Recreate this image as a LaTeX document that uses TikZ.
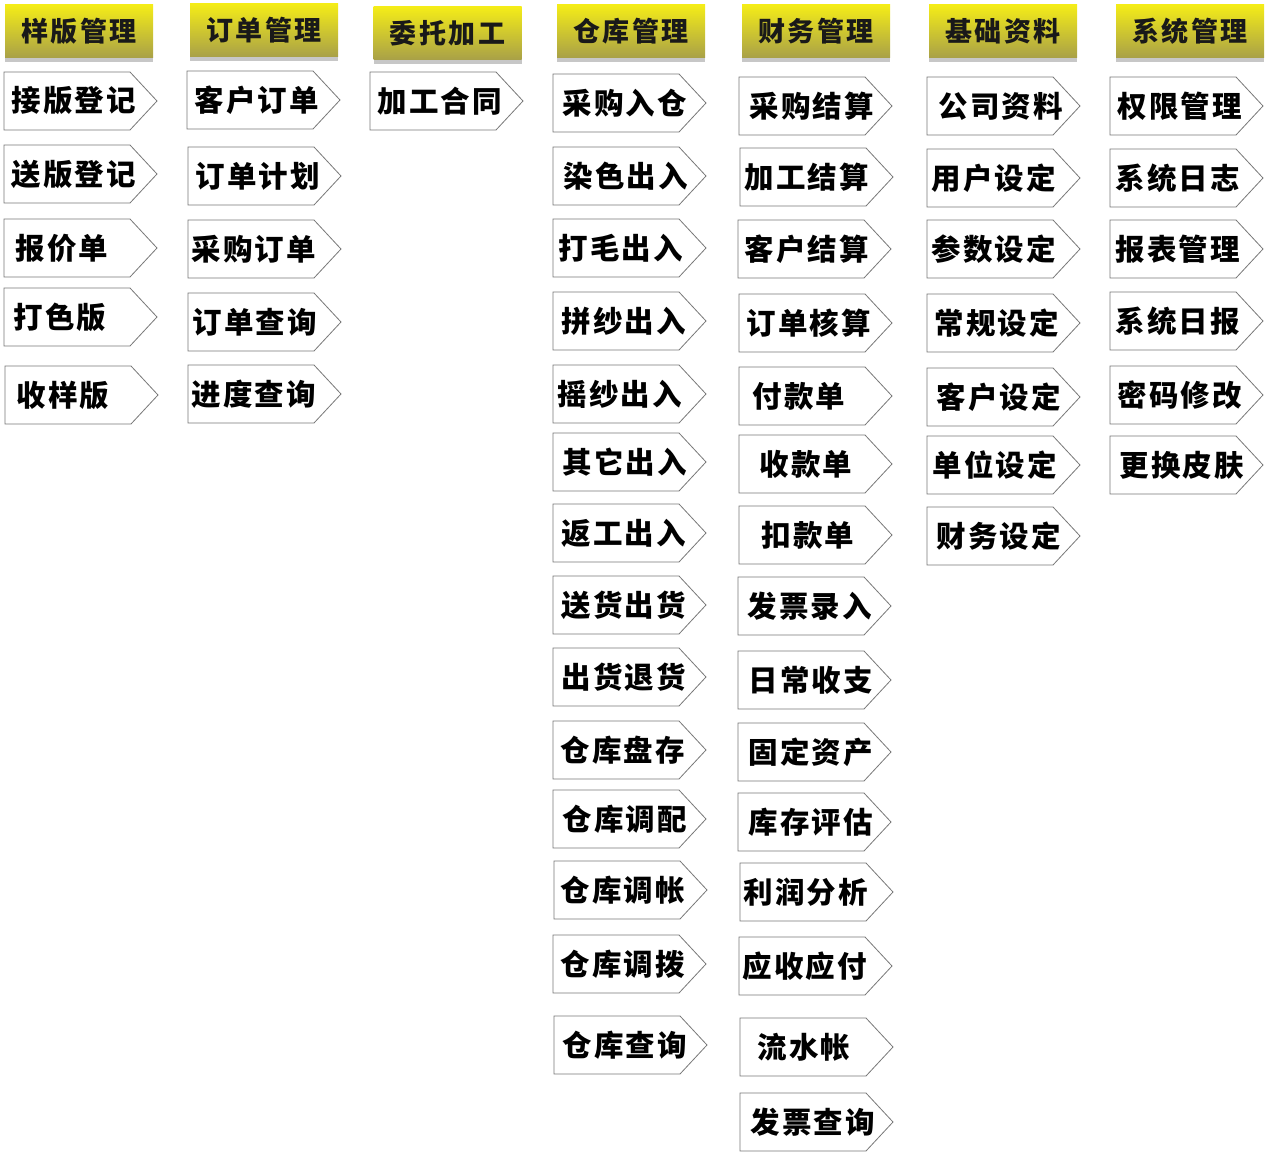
\documentclass[tikz,border=0pt]{standalone}
\usepackage{fontspec}
\usetikzlibrary{shadows}
\newfontfamily\cjkitem[LetterSpace=8, BoldFont={Noto Sans CJK SC Black}]{Noto Sans CJK SC}
\newfontfamily\cjkhead[LetterSpace=9, BoldFont={Noto Sans CJK SC Black}]{Noto Sans CJK SC}
\definecolor{hdtop}{RGB}{244,236,24}
\definecolor{hdbot}{RGB}{168,160,72}
\definecolor{boxline}{RGB}{120,120,120}
\tikzset{
  header/.style={minimum width=148pt, minimum height=53pt, inner sep=0pt,
    top color=hdtop, bottom color=hdbot, draw=none,
    drop shadow={shadow xshift=0pt, shadow yshift=-4pt, fill=black!40, opacity=0.55},
    font=\cjkhead\bfseries\fontsize{27}{27}\selectfont, text=black!90},
  itemline/.style={draw=boxline, line width=0.8pt, fill=white},
  itemtext/.style={inner sep=0pt, anchor=west, font=\cjkitem\bfseries\fontsize{29.5}{29.5}\selectfont, text=black}
}
\newcommand\menuitem[5]{%
  \draw[itemline] (#2,-#3) -- ++(126,0) -- ++(27,-29) -- ++(-27,-29) -- ++(-126,0) -- cycle;
  \node[itemtext] (#1) at (#2+#5,-#3-29) {#4};}
\begin{document}
\begin{tikzpicture}[x=1pt,y=1pt]
\useasboundingbox (0,0) rectangle (1270,-1153);
% headers
\node[header] (h1) at (79,-31.5) {样版管理};
\node[header] (h2) at (264,-30.5) {订单管理};
\node[header] (h3) at (447.5,-33.5) {委托加工};
\node[header] (h4) at (631,-31.5) {仓库管理};
\node[header] (h5) at (816,-31.5) {财务管理};
\node[header] (h6) at (1003,-31.5) {基础资料};
\node[header] (h7) at (1190,-31.5) {系统管理};
% column 1
\menuitem{a1}{4}{72}{接版登记}{7}
\menuitem{a2}{4}{145}{送版登记}{7}
\menuitem{a3}{4}{219}{报价单}{11}
\menuitem{a4}{4}{288}{打色版}{9}
\menuitem{a5}{5}{366}{收样版}{11}
% column 2
\menuitem{b1}{187}{71}{客户订单}{7}
\menuitem{b2}{188}{147}{订单计划}{7}
\menuitem{b3}{188}{220}{采购订单}{3}
\menuitem{b4}{188}{293}{订单查询}{4}
\menuitem{b5}{188}{365}{进度查询}{3}
% column 3
\menuitem{c1}{370}{72}{加工合同}{7}
% column 4
\menuitem{d1}{553}{74}{采购入仓}{9}
\menuitem{d2}{553}{147}{染色出入}{10}
\menuitem{d3}{553}{219}{打毛出入}{5}
\menuitem{d4}{553}{292}{拼纱出入}{8}
\menuitem{d5}{553}{365}{摇纱出入}{4}
\menuitem{d6}{553}{433}{其它出入}{9}
\menuitem{d7}{553}{504}{返工出入}{8}
\menuitem{d8}{553}{576}{送货出货}{8}
\menuitem{d9}{553}{648}{出货退货}{8}
\menuitem{d10}{553}{721}{仓库盘存}{7}
\menuitem{d11}{553}{790}{仓库调配}{9}
\menuitem{d12}{554}{861}{仓库调帐}{6}
\menuitem{d13}{553}{935}{仓库调拨}{7}
\menuitem{d14}{554}{1016}{仓库查询}{8}
% column 5
\menuitem{e1}{739}{77}{采购结算}{10}
\menuitem{e2}{740}{148}{加工结算}{4}
\menuitem{e3}{738}{220}{客户结算}{6}
\menuitem{e4}{739}{294}{订单核算}{7}
\menuitem{e5}{739}{367}{付款单}{13}
\menuitem{e6}{739}{435}{收款单}{20}
\menuitem{e7}{739}{506}{扣款单}{22}
\menuitem{e8}{738}{577}{发票录入}{9}
\menuitem{e9}{738}{651}{日常收支}{10}
\menuitem{e10}{738}{723}{固定资产}{10}
\menuitem{e11}{738}{793}{库存评估}{10}
\menuitem{e12}{740}{863}{利润分析}{3}
\menuitem{e13}{739}{937}{应收应付}{3}
\menuitem{e14}{740}{1018}{流水帐}{17}
\menuitem{e15}{740}{1093}{发票查询}{10}
% column 6
\menuitem{f1}{927}{77}{公司资料}{11}
\menuitem{f2}{927}{149}{用户设定}{4}
\menuitem{f3}{927}{220}{参数设定}{4}
\menuitem{f4}{927}{294}{常规设定}{7}
\menuitem{f5}{927}{368}{客户设定}{9}
\menuitem{f6}{927}{436}{单位设定}{5}
\menuitem{f7}{927}{507}{财务设定}{9}
% column 7
\menuitem{g1}{1110}{77}{权限管理}{7}
\menuitem{g2}{1110}{149}{系统日志}{5}
\menuitem{g3}{1110}{220}{报表管理}{5}
\menuitem{g4}{1110}{292}{系统日报}{5}
\menuitem{g5}{1110}{366}{密码修改}{7}
\menuitem{g6}{1110}{436}{更换皮肤}{9}
\end{tikzpicture}
\end{document}
